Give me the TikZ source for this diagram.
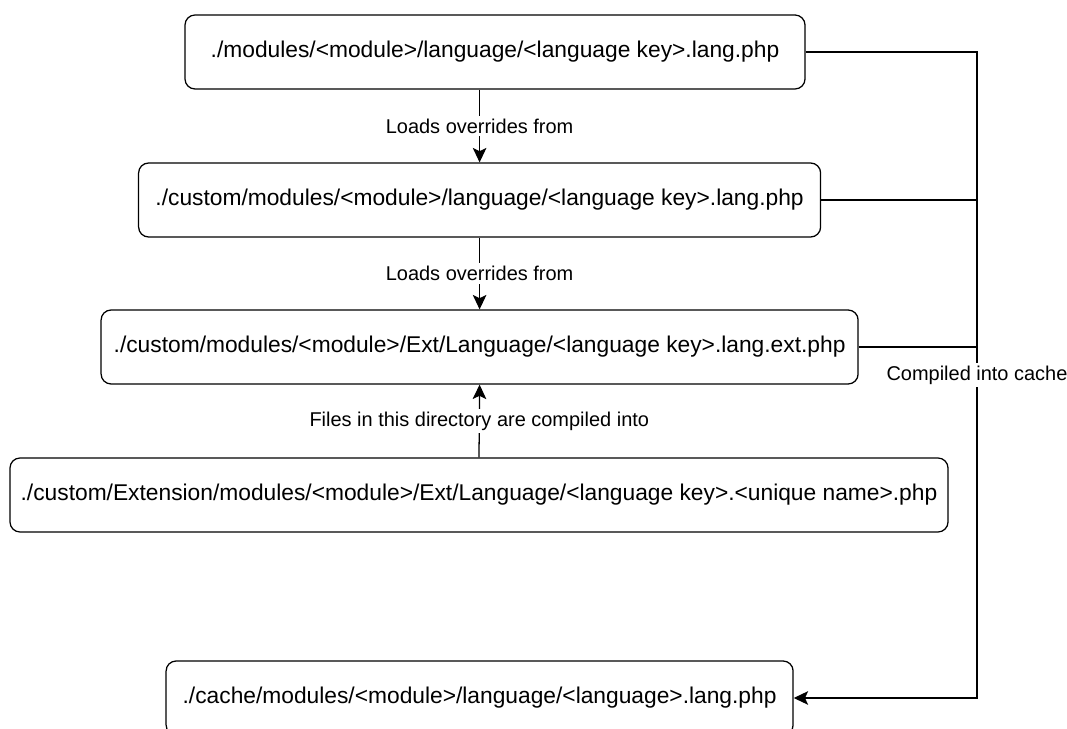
\documentclass[tikz,border=0pt]{standalone}
\usepackage{fontspec}
\setmainfont{Liberation Sans}
\usetikzlibrary{arrows.meta}

\begin{document}
\begin{tikzpicture}
\useasboundingbox (0,0) rectangle (26.675,-18.225);
\clip (0,0) rectangle (26.675,-18.225);
				\begin{scope}[every node/.style={draw,rounded corners=0.25cm,line width=0.9pt,minimum height=1.85cm,font=\fontsize{16.2}{19}\selectfont}]
				\node[minimum width=15.5cm] (base) at (12.375,-1.3) {./modules/<module>/language/<language key>.lang.php\hspace{0.45cm}};
				\node[minimum width=17.05cm] (custom) at (11.99,-5.0) {./custom/modules/<module>/language/<language key>.lang.php};
				\node[minimum width=18.925cm] (ext) at (11.99,-8.675) {./custom/modules/<module>/Ext/Language/<language key>.lang.ext.php};
				\node[minimum width=23.45cm] (extsrc) at (11.975,-12.375) {./custom/Extension/modules/<module>/Ext/Language/<language key>.<unique name>.php};
				\node[minimum width=15.675cm] (cache) at (11.99,-17.45) {./cache/modules/<module>/language/<language>.lang.php};
				\end{scope}
				\coordinate (rail) at (24.425,-1.3);
				\begin{scope}[>={Stealth[length=0.36cm,width=0.34cm,inset=0.08cm]},
				line width=0.9pt,
				every node/.style={fill=white,inner sep=2pt,font=\fontsize{14.2}{17}\selectfont}]
				\draw [->] (base.south -| custom.north) -- node {Loads overrides from} (custom.north);
				\draw [->] (custom.south) -- node {Loads overrides from} (ext.north);
				\draw [->] (extsrc.north) -- node {Files in this directory are compiled into} (ext.south);
				\draw [->] (base.east) -- (rail) -- node {Compiled into cache} (rail |- cache.east) -- (cache.east);
				\draw (custom.east) -- (custom.east -| rail);
				\draw (ext.east) -- (ext.east -| rail);
				\end{scope}
\end{tikzpicture}
\end{document}
